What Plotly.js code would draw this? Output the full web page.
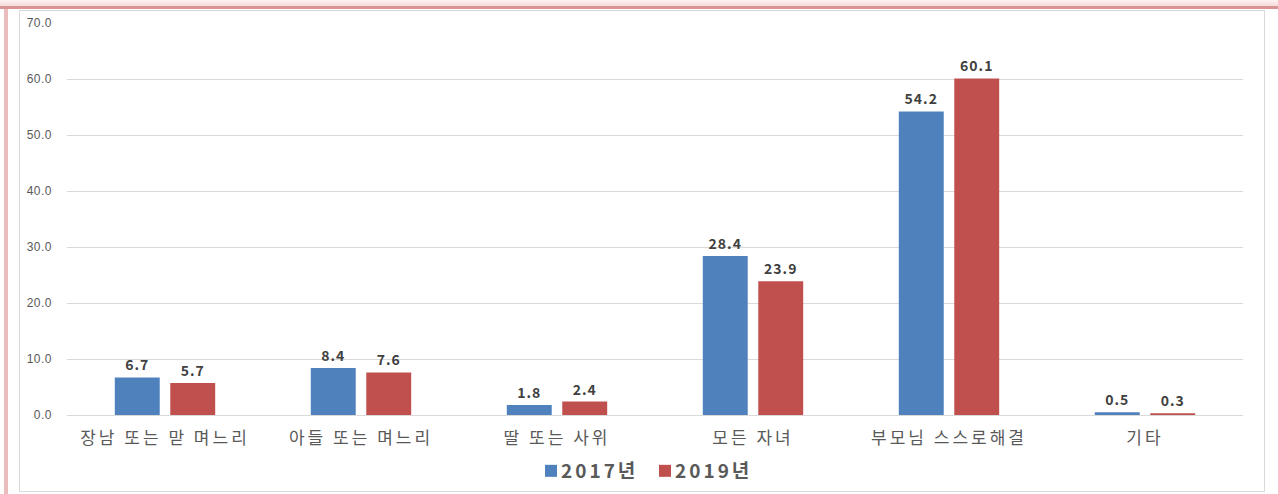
<!DOCTYPE html>
<html><head><meta charset="utf-8">
<script src="https://cdn.plot.ly/plotly-3.0.1.min.js"></script>
<style>
html,body{margin:0;padding:0;background:#fff;}
#wrap{position:relative;width:1278px;height:494px;overflow:hidden;background:#fff;}
#fade{position:absolute;left:0;top:0;width:1278px;height:6px;background:linear-gradient(#fdf3f3,#f6dada);}
#topbar{position:absolute;left:0;top:6px;width:1278px;height:3px;background:#d99594;}
#leftbar{position:absolute;left:4px;top:9px;width:4px;height:485px;background:#ebbcbc;}
#box{position:absolute;left:19px;top:10px;width:1246px;height:482px;border:1px solid #d9d9d9;box-sizing:border-box;}
#chart{position:absolute;left:0;top:0;width:1278px;height:494px;}
</style></head>
<body><div id="wrap"><div id="fade"></div><div id="topbar"></div><div id="leftbar"></div><div id="box"></div><div id="chart"></div></div>
<script>
const categories = ["장남 또는 맏 며느리", "아들 또는 며느리", "딸 또는 사위", "모든 자녀", "부모님 스스로해결", "기타"];
const values2017 = [6.7, 8.4, 1.8, 28.4, 54.2, 0.5];
const values2019 = [5.7, 7.6, 2.4, 23.9, 60.1, 0.3];
const seriesNames = ["2017년", "2019년"];
const yTicks = [0, 10, 20, 30, 40, 50, 60, 70];

const font = "'Noto Sans CJK KR', 'Noto Sans', sans-serif";
const lblFont = {family: font, size: 14, color: "#404040", weight: 700};
function mk(name, vals, color){
  return {type:"bar", name:name, x:categories, y:vals, marker:{color:color},
    text: vals.map(v=>v.toFixed(1)), textposition:"outside", textfont:lblFont,
    cliponaxis:false, hoverinfo:"skip"};
}
const data = [mk(seriesNames[0], values2017, "#4F81BD"), mk(seriesNames[1], values2019, "#C0504D")];
const layout = {
  width:1278, height:494,
  paper_bgcolor:"rgba(0,0,0,0)", plot_bgcolor:"rgba(0,0,0,0)",
  margin:{l:67, r:35, t:23, b:79},
  barmode:"group", bargap:0.434, bargroupgap:0.19,
  font:{family:font, color:"#595959"},
  xaxis:{tickfont:{family:font, size:17, color:"#595959"}, showline:false, ticks:"", ticklabelstandoff:11, automargin:false},
  yaxis:{range:[0,70], tickvals:yTicks, ticktext:yTicks.map(v=>v.toFixed(1)),
    tickfont:{family:"'Liberation Sans', Arial, sans-serif", size:12, color:"#595959"},
    gridcolor:"#d9d9d9", zeroline:true, zerolinecolor:"#d9d9d9", showline:false, ticklabelstandoff:14, automargin:false},
  legend:{orientation:"h", x:0.4915, xanchor:"center", yref:"container", y:0.0466, yanchor:"middle",
    font:{family:font, size:19, color:"#595959", weight:700}, entrywidth:69, entrywidthmode:"pixels", traceorder:"normal"},
  showlegend:true
};
Plotly.newPlot("chart", data, layout, {displayModeBar:false, staticPlot:true}).then(function(gd){
  gd.querySelectorAll('.xtick text').forEach(t=>{t.style.letterSpacing='3px';});
  gd.querySelectorAll('.ytick text').forEach(t=>{t.style.letterSpacing='0.5px';});
  gd.querySelectorAll('.legendtext').forEach(t=>{t.style.letterSpacing='3px'; t.setAttribute('x', 30);});
  gd.querySelectorAll('.bartext text, text.bartext').forEach(t=>{t.style.letterSpacing='1px';});
});
</script></body></html>
